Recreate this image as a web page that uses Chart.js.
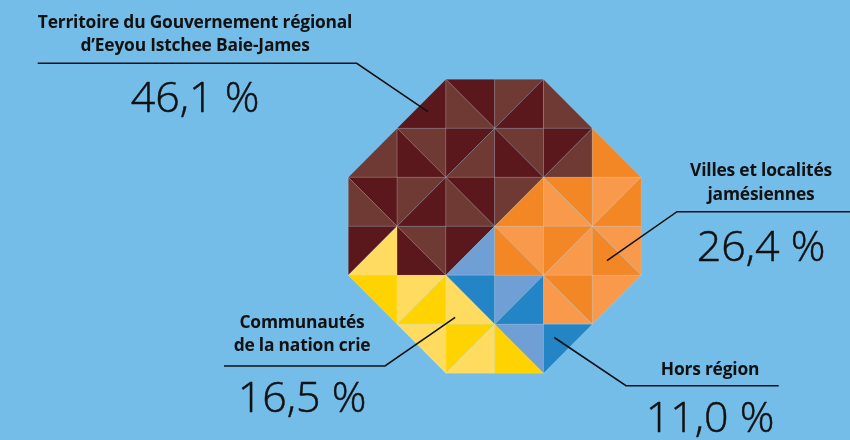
<!DOCTYPE html>
<html>
<head>
<meta charset="utf-8">
<script src="https://cdn.jsdelivr.net/npm/chart.js@4"></script>
<style>
  html, body { margin: 0; padding: 0; }
  body { width: 850px; height: 440px; background: #75bde9; position: relative; overflow: hidden; font-family: "Open Sans", sans-serif; }
  #wrap { position: absolute; left: 0; top: 0; width: 850px; height: 440px; }
  .title { position: absolute; width: 400px; text-align: center; font-weight: 700; font-size: 17.4px; line-height: 23.4px; color: #111; white-space: nowrap; letter-spacing: -0.2px; }
  .value { position: absolute; width: 300px; text-align: center; font-weight: 300; font-size: 43px; line-height: 43px; color: #111; white-space: nowrap; -webkit-text-stroke: 0.5px #111; }
</style>
</head>
<body>
<div id="wrap"><canvas id="tileChart" width="850" height="440"></canvas></div>
<script>
// categories and their shares (%)
const categories = [
  ['Territoire du Gouvernement régional', 'd’Eeyou Istchee Baie-James'],
  ['Villes et localités', 'jamésiennes'],
  ['Communautés', 'de la nation crie'],
  ['Hors région']
];
const shares = [46.1, 26.4, 16.5, 11.0];

// tile pattern: one 2-char token per grid cell (each cell = 2 triangles)
// D/B = territoire, O/P = villes, Y/Z = cries, U/V = hors région, . = empty
const tileRows = [
  ['..', '.D', 'DB', 'BD', '.B', '..'],
  ['.B', 'BD', 'DB', 'BD', 'DB', '.O'],
  ['DB', 'BD', 'DB', 'BO', 'OP', 'PO'],
  ['DZ', 'BD', 'DV', 'PO', 'OP', 'PO'],
  ['Y.', 'ZY', 'UZ', 'VU', 'OP', 'P.'],
  ['..', 'Z.', 'YZ', 'VY', 'U.', '..']
];

const tileColors = {
  D: '#5a171c', B: '#6f3a34',
  O: '#f38625', P: '#f8994b',
  Y: '#ffd300', Z: '#ffdc60',
  U: '#2384c6', V: '#6f9fd5'
};

// label placement (pixels) and where each leader line touches the tiles (grid units)
const labelPos = [
  { cx: 195, titleBase: 28.3, valueBase: 112, rule: [37.7, 356.7, 63.3], anchor: [1.63, 0.66] },
  { cx: 761, titleBase: 176.7, valueBase: 261.5, rule: [850, 677, 211.7], anchor: [5.3, 3.7] },
  { cx: 302, titleBase: 328.3, valueBase: 411.7, rule: [224, 385, 366], anchor: [2.19, 4.86] },
  { cx: 710, titleBase: 375, valueBase: 431.7, rule: [778.7, 626, 385.7], anchor: [4.22, 5.27] }
];

const fmt = v => v.toFixed(1).replace('.', ',') + '\u00a0%';

const wrap = document.getElementById('wrap');
categories.forEach((lines, i) => {
  const p = labelPos[i];
  const t = document.createElement('div');
  t.className = 'title';
  t.style.left = (p.cx - 200) + 'px';
  t.style.top = (p.titleBase - 18.45) + 'px';
  t.innerHTML = lines.join('<br>');
  wrap.appendChild(t);
  const v = document.createElement('div');
  v.className = 'value';
  v.style.left = (p.cx - 150) + 'px';
  v.style.top = (p.valueBase - 38.1) + 'px';
  v.textContent = fmt(shares[i]);
  wrap.appendChild(v);
});

const tilePlugin = {
  id: 'tiles',
  beforeDatasetsDraw(chart) {
    const { ctx, scales: { x, y } } = chart;
    const px = (gx, gy) => [x.getPixelForValue(gx), y.getPixelForValue(gy)];
    ctx.save();
    tileRows.forEach((row, r) => {
      row.forEach((tok, c) => {
        const TL = px(c, r), TR = px(c + 1, r), BR = px(c + 1, r + 1), BL = px(c, r + 1);
        let tris;
        if ((r + c) % 2 === 0) {
          tris = [[TL, TR, BR], [TL, BR, BL]];
        } else {
          tris = [[TL, TR, BL], [TR, BR, BL]];
        }
        tris.forEach((tri, k) => {
          const code = tok[k];
          if (code === '.') return;
          ctx.beginPath();
          ctx.moveTo(tri[0][0], tri[0][1]);
          ctx.lineTo(tri[1][0], tri[1][1]);
          ctx.lineTo(tri[2][0], tri[2][1]);
          ctx.closePath();
          ctx.fillStyle = tileColors[code];
          ctx.fill();
          ctx.strokeStyle = 'rgba(255,255,255,0.13)';
          ctx.lineWidth = 1;
          ctx.stroke();
        });
      });
    });
    ctx.restore();
  },
  afterDraw(chart) {
    const { ctx, scales: { x, y } } = chart;
    ctx.save();
    ctx.strokeStyle = '#111';
    ctx.lineWidth = 1.6;
    labelPos.forEach(p => {
      const ax = x.getPixelForValue(p.anchor[0]);
      const ay = y.getPixelForValue(p.anchor[1]);
      ctx.beginPath();
      ctx.moveTo(p.rule[0], p.rule[2]);
      ctx.lineTo(p.rule[1], p.rule[2]);
      ctx.lineTo(ax, ay);
      ctx.stroke();
    });
    ctx.restore();
  }
};

new Chart(document.getElementById('tileChart'), {
  type: 'scatter',
  data: { datasets: [{ data: [], pointRadius: 0 }] },
  options: {
    responsive: false,
    animation: false,
    layout: { padding: { left: 348.3, right: 208.9, top: 79.3, bottom: 66.7 } },
    scales: {
      x: { type: 'linear', min: 0, max: 6, display: false },
      y: { type: 'linear', min: 0, max: 6, reverse: true, display: false }
    },
    plugins: { legend: { display: false }, tooltip: { enabled: false } }
  },
  plugins: [tilePlugin]
});
</script>
</body>
</html>
